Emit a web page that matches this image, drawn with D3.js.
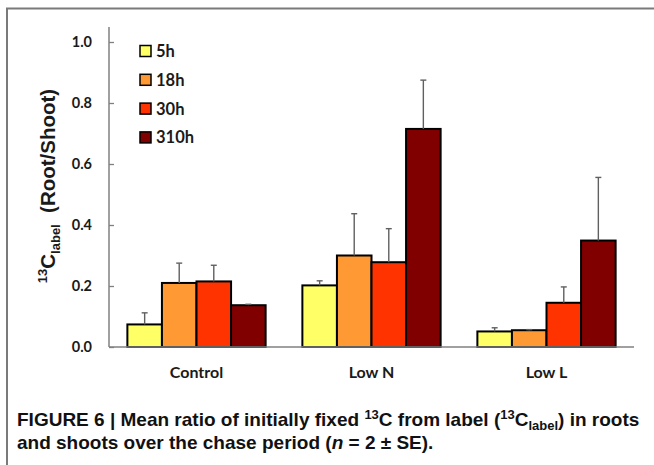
<!DOCTYPE html>
<html>
<head>
<meta charset="utf-8">
<script src="https://cdn.jsdelivr.net/npm/d3@7"></script>
<style>
  html, body { margin: 0; padding: 0; background: #fff; }
  svg { display: block; }
</style>
</head>
<body>
<svg id="chart" width="654" height="465"></svg>
<script>
// Treatments, chase times and mean 13C root/shoot ratios (with SE)
const categories = ["Control", "Low N", "Low L"];
const seriesNames = ["5h", "18h", "30h", "310h"];
const seriesColors = ["#FFFF66", "#FF9933", "#FF3300", "#800000"];
const values = [
  [0.074, 0.210, 0.215, 0.137],   // Control
  [0.202, 0.300, 0.278, 0.715],   // Low N
  [0.051, 0.055, 0.145, 0.349]    // Low L
];
const errors = [
  [0.038, 0.065, 0.053, 0.003],
  [0.015, 0.137, 0.110, 0.160],
  [0.012, 0.002, 0.052, 0.207]
];
const yTicks = [0, 0.2, 0.4, 0.6, 0.8, 1.0];

const svg = d3.select("#chart");
const W = 654, H = 465;
svg.append("rect").attr("width", W).attr("height", H).attr("fill", "#fff");

// Figure frame (open on the right and bottom edges)
svg.append("path")
  .attr("d", `M${W},8.5 H7 V${H}`)
  .attr("fill", "none").attr("stroke", "#7a7a7a").attr("stroke-width", 2);

const plot = { left: 109, right: 634, top: 27, bottom: 347 };

const y = d3.scaleLinear().domain([0, 1]).range([plot.bottom, 42]);
const x0 = d3.scaleBand().domain(categories)
  .range([plot.left, plot.right]).paddingInner(0.21).paddingOuter(0.105);
const x1 = d3.scaleBand().domain(seriesNames).range([0, x0.bandwidth()]);

const axisColor = "#808080";
const tickFont = "Lato, 'Open Sans', sans-serif";

// Y axis
const yAxis = svg.append("g")
  .attr("transform", `translate(${plot.left},0)`)
  .call(d3.axisLeft(y).tickValues(yTicks).tickFormat(d3.format(".1f"))
    .tickSize(-5).tickPadding(17));
yAxis.select(".domain").remove();
yAxis.selectAll(".tick line").attr("stroke", axisColor).attr("stroke-width", 1.3);
yAxis.selectAll(".tick text")
  .attr("font-family", tickFont).attr("font-weight", 700)
  .attr("font-size", 14.5).attr("fill", "#1a1a1a");
svg.append("line")
  .attr("x1", plot.left).attr("x2", plot.left)
  .attr("y1", plot.top).attr("y2", plot.bottom)
  .attr("stroke", axisColor).attr("stroke-width", 1.5);

// Bars
const groups = svg.append("g").selectAll("g")
  .data(categories)
  .join("g")
  .attr("transform", d => `translate(${x0(d)},0)`);

groups.selectAll("rect")
  .data((c, ci) => seriesNames.map((s, si) => ({ s, si, v: values[ci][si], e: errors[ci][si] })))
  .join("rect")
  .attr("x", d => x1(d.s))
  .attr("y", d => y(d.v))
  .attr("width", x1.bandwidth())
  .attr("height", d => y(0) - y(d.v))
  .attr("fill", d => seriesColors[d.si])
  .attr("stroke", "#000").attr("stroke-width", 2);

// Upper error bars
const errG = groups.selectAll("g.err")
  .data((c, ci) => seriesNames.map((s, si) => ({ s, v: values[ci][si], e: errors[ci][si] })))
  .join("g").attr("class", "err")
  .attr("stroke", "#606060").attr("stroke-width", 1.4);
errG.append("line")
  .attr("x1", d => x1(d.s) + x1.bandwidth() / 2)
  .attr("x2", d => x1(d.s) + x1.bandwidth() / 2)
  .attr("y1", d => y(d.v))
  .attr("y2", d => y(d.v + d.e));
errG.append("line")
  .attr("x1", d => x1(d.s) + x1.bandwidth() / 2 - 3)
  .attr("x2", d => x1(d.s) + x1.bandwidth() / 2 + 3)
  .attr("y1", d => y(d.v + d.e))
  .attr("y2", d => y(d.v + d.e));

// X axis line and category labels
svg.append("line")
  .attr("x1", plot.left).attr("x2", plot.right)
  .attr("y1", y(0)).attr("y2", y(0))
  .attr("stroke", axisColor).attr("stroke-width", 1.5);
svg.append("g").selectAll("text")
  .data(categories)
  .join("text")
  .attr("x", d => x0(d) + x0.bandwidth() / 2)
  .attr("y", 377.5)
  .attr("text-anchor", "middle")
  .attr("font-family", tickFont).attr("font-weight", 700)
  .attr("font-size", 16).attr("fill", "#1a1a1a")
  .text(d => d);

// Legend
const legend = svg.append("g").attr("transform", "translate(140,45.5)");
const legendRows = legend.selectAll("g")
  .data(seriesNames)
  .join("g")
  .attr("transform", (d, i) => `translate(0,${i * 28.8})`);
legendRows.append("rect")
  .attr("width", 11).attr("height", 11)
  .attr("fill", (d, i) => seriesColors[i])
  .attr("stroke", "#000").attr("stroke-width", 1.5);
legendRows.append("text")
  .attr("x", 16).attr("y", 11.5)
  .attr("font-family", tickFont).attr("font-weight", 700)
  .attr("font-size", 16.5).attr("fill", "#1a1a1a")
  .text(d => d);

// Y axis title: 13C_label (Root/Shoot)
const titleFont = "'Liberation Sans', Arial, sans-serif";
const yTitle = svg.append("text")
  .attr("transform", "translate(55,186) rotate(-90)")
  .attr("text-anchor", "middle")
  .attr("font-family", titleFont).attr("font-weight", 700)
  .attr("font-size", 20.5).attr("fill", "#1a1a1a");
yTitle.append("tspan").attr("font-size", 13).attr("dy", -8).text("13");
yTitle.append("tspan").attr("dy", 8).text("C");
yTitle.append("tspan").attr("font-size", 13).attr("dy", 5).text("label");
yTitle.append("tspan").attr("dy", -5).text("\u00a0\u00a0(Root/Shoot)");

// Figure caption
const cap = svg.append("g")
  .attr("font-family", titleFont).attr("font-weight", 700)
  .attr("font-size", 19).attr("fill", "#111");
const l1 = cap.append("text").attr("x", 17).attr("y", 426);
l1.append("tspan").text("FIGURE 6 | Mean ratio of initially fixed ");
l1.append("tspan").attr("font-size", 13).attr("dy", -7).text("13");
l1.append("tspan").attr("dy", 7).text("C from label (");
l1.append("tspan").attr("font-size", 13).attr("dy", -7).text("13");
l1.append("tspan").attr("dy", 7).text("C");
l1.append("tspan").attr("font-size", 13).attr("dy", 4).text("label");
l1.append("tspan").attr("dy", -4).text(") in roots");
const l2 = cap.append("text").attr("x", 17).attr("y", 449);
l2.append("tspan").text("and shoots over the chase period (");
l2.append("tspan").attr("font-style", "italic").text("n");
l2.append("tspan").text(" = 2 \u00b1 SE).");
</script>
</body>
</html>
